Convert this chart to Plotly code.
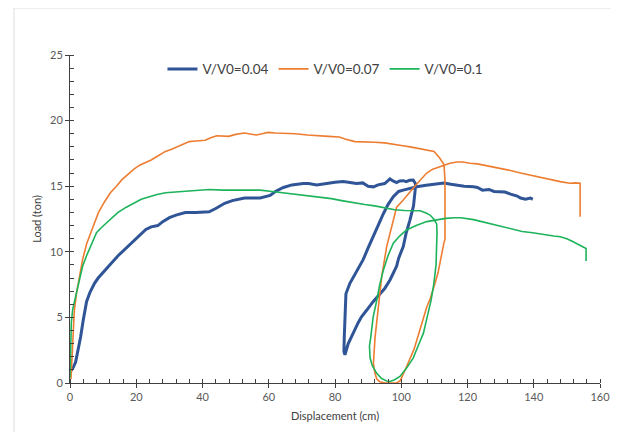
import plotly.graph_objects as go

# ---- data ----
blue_x = [0.2, 1.0, 1.7, 2.5, 3.2, 4.0, 5.0, 6.0, 7.4, 8.5, 9.8, 12, 14.5, 17, 19.3, 21, 22.9, 24.5, 26.5, 28,
          30, 32, 34.8, 38, 42, 44, 46.7, 49, 52.7, 55, 57.4, 60.4, 62, 64.4, 67, 70.4, 72, 74.5, 77, 80,
          82.5, 84.5, 86.5, 88.4, 90, 91.6, 93, 95, 96.6, 97.5, 98.6, 99.5, 100.6, 101.5, 102.5, 103.6,
          104.3, 104.2, 103.7, 102.6, 101.5, 100.6, 99.2, 98.6, 96.6, 95, 93.6, 91.5, 89.6, 88, 87, 85.5,
          84, 83, 82.7, 82.8, 83.0, 83.3, 84.5, 86, 88.5, 90, 91.6, 93, 94.6, 96, 97.6, 99.2, 100.6, 102.7,
          104.7, 107.5, 110, 112.9, 115, 117, 119, 121.8, 123, 124.5, 126.5, 128, 131.3, 133, 135, 136,
          137.5, 139, 139.7]
blue_y = [0.9, 1.2, 1.6, 2.6, 3.5, 4.8, 6.2, 6.9, 7.6, 8.0, 8.4, 9.0, 9.7, 10.3, 10.8, 11.2, 11.7, 11.9, 12.0, 12.3,
          12.6, 12.8, 13.0, 13.0, 13.05, 13.3, 13.7, 13.9, 14.1, 14.1, 14.1, 14.3, 14.6, 14.9, 15.1, 15.2, 15.2, 15.1, 15.2, 15.3,
          15.35, 15.3, 15.2, 15.25, 15.0, 14.95, 15.1, 15.2, 15.55, 15.4, 15.27, 15.4, 15.42, 15.35, 15.45, 15.47,
          15.2, 14.7, 13.5, 12.4, 11.45, 10.4, 9.5, 8.9, 7.85, 7.2, 6.8, 6.2, 5.56, 5.05, 4.6, 3.8,
          3.0, 2.15, 2.4, 3.5, 5.5, 6.8, 7.6, 8.3, 9.4, 10.3, 11.15, 12.0, 12.9, 13.6, 14.2, 14.6, 14.7, 14.85,
          14.96, 15.07, 15.15, 15.25, 15.15, 15.05, 15.0, 14.95, 14.9, 14.7, 14.75, 14.6, 14.55, 14.4, 14.25, 14.1,
          14.0, 14.1, 14.0]

orange_x = [0.3, 0.5, 0.8, 1.3, 2, 3, 3.8, 5, 6.2, 7.4, 8.6, 10.4, 12.2, 14, 15.7, 17.5, 19.3, 21, 22.9, 24.5,
            26.5, 28.8, 30.5, 32.4, 34, 36, 38, 40.8, 42.5, 44.3, 47.9, 50, 52.7, 54.5, 56.3, 58, 59.8, 62, 64.6, 68,
            71.7, 74, 76.5, 78, 81.3, 83, 86, 89, 92, 95, 98, 100, 102.7, 105, 107.5, 109.9, 111.6, 112.9,
            113.2, 113.2, 113.2, 112.9, 112, 111.1, 110.2, 108.7, 107.7, 106.3, 104.7, 103.9, 101.6, 100.5, 99.7,
            98.6, 97, 95.1, 93.5, 92.6, 92.0, 91.6, 92.1, 93.1, 94.1, 95.6, 97.1, 98.6, 100.6, 102, 103.6, 105.5,
            107.7, 109.5, 111.7, 114.7, 116.7, 118.5, 120.75, 123, 126, 130, 133, 136, 139.9, 143, 145.9, 148,
            150.9, 152.5, 154, 154]
orange_y = [0.3, 1.3, 3.85, 5.5, 6.9, 8.3, 9.4, 10.6, 11.45, 12.3, 13.0, 13.8, 14.5, 15.0, 15.5, 15.9, 16.3, 16.6, 16.8, 17.0,
            17.3, 17.65, 17.8, 18.0, 18.2, 18.4, 18.45, 18.5, 18.7, 18.85, 18.8, 18.95, 19.05, 18.95, 18.9, 19.0, 19.1, 19.05, 19.05, 19.0,
            18.9, 18.85, 18.85, 18.8, 18.75, 18.6, 18.4, 18.4, 18.35, 18.3, 18.15, 18.1, 18.0, 17.9, 17.8, 17.65, 17.15, 16.65,
            15.5, 13.0, 10.95, 10.7, 9.6, 8.4, 7.6, 6.4, 5.8, 4.6, 3.3, 2.6, 1.24, 0.6, 0.18,
            0.0, 0.0, 0.0, 0.1, 0.3, 0.8, 1.5, 3.5, 5.8, 8.1, 10.4, 11.9, 13.4, 13.95, 14.4, 14.84, 15.4,
            16.0, 16.3, 16.5, 16.75, 16.85, 16.85, 16.75, 16.7, 16.55, 16.36, 16.2, 16.0, 15.78, 15.6, 15.47, 15.35,
            15.22, 15.25, 15.22, 12.68]

green_x = [0, 0.2, 0.4, 0.8, 2, 3, 3.8, 5, 6.2, 7, 8, 9.5, 11, 12.5, 14.5, 17, 19.3, 21.5, 24, 26,
           28.8, 32, 34.8, 38, 42, 46, 50.3, 54.3, 57.4, 61, 64.6, 68, 71.7, 74.5, 78.9, 82, 86, 89, 92, 95,
           98, 101, 104, 105.7, 107.5, 108.7, 110, 110.7, 110.8, 110.7, 110.5, 109.8, 109, 107.8, 106.7, 105.2,
           103.6, 101.5, 99.6, 98, 96.6, 95.6, 94, 92.6, 91.3, 90.6, 90.4, 90.8, 91.5, 92.6, 93.5, 94.6, 96,
           97.6, 99.5, 101.6, 104.5, 107.7, 110.5, 113.4, 116, 118, 121.8, 125, 127.7, 130.5, 133.7, 136.5,
           139.7, 143, 146, 148, 150, 151.6, 153.5, 155.8, 155.8]
green_y = [0.4, 2.5, 4.6, 5.6, 6.9, 8.0, 8.9, 9.7, 10.4, 11.0, 11.45, 11.85, 12.2, 12.6, 13.0, 13.4, 13.7, 14.0, 14.2, 14.35,
           14.5, 14.55, 14.6, 14.7, 14.75, 14.7, 14.7, 14.7, 14.7, 14.6, 14.5, 14.4, 14.25, 14.2, 14.05, 13.9, 13.7, 13.6, 13.5, 13.35,
           13.2, 13.15, 13.15, 13.13, 12.95, 12.8, 12.45, 12.1, 11.45, 10.5, 9.0, 7.5, 6.3, 5.0, 3.8, 2.9,
           1.9, 1.1, 0.5, 0.25, 0.12, 0.15, 0.35, 0.74, 1.3, 1.9, 2.8, 3.5, 5.0, 6.3, 7.5, 8.6, 9.7,
           10.65, 11.2, 11.66, 12.0, 12.3, 12.45, 12.55, 12.6, 12.6, 12.45, 12.25, 12.1, 11.9, 11.7, 11.55,
           11.45, 11.3, 11.2, 11.15, 11.0, 10.8, 10.55, 10.25, 9.3]

series_names = ["V/V0=0.04", "V/V0=0.07", "V/V0=0.1"]
x_ticks = [0, 20, 40, 60, 80, 100, 120, 140, 160]
y_ticks = [0, 5, 10, 15, 20, 25]

FONT = "Lato, 'Open Sans', sans-serif"
AXC = "#404040"

fig = go.Figure()
fig.add_trace(go.Scatter(x=blue_x, y=blue_y, mode="lines", name=series_names[0],
                         line=dict(color="#2F5597", width=3)))
fig.add_trace(go.Scatter(x=orange_x, y=orange_y, mode="lines", name=series_names[1],
                         line=dict(color="#ED7D31", width=1.6)))
fig.add_trace(go.Scatter(x=green_x, y=green_y, mode="lines", name=series_names[2],
                         line=dict(color="#1DB35A", width=1.6)))
# empty trace to activate an overlay subplot used for the inner half of crossing ticks
fig.add_trace(go.Scatter(x=[], y=[], xaxis="x2", yaxis="y2", showlegend=False, hoverinfo="skip"))

common_x = dict(range=[0, 160], showgrid=False, zeroline=False, automargin=False)
common_y = dict(range=[0, 25], showgrid=False, zeroline=False, automargin=False)

fig.update_layout(
    width=619, height=432,
    paper_bgcolor="white", plot_bgcolor="white",
    margin=dict(l=62, r=27, t=47, b=57, autoexpand=False),
    font=dict(family=FONT, size=11, color="#404040"),
    showlegend=True,
    legend=dict(orientation="h", x=0.482, xanchor="center", y=0.957, yanchor="middle",
                font=dict(size=13.5, color="#404040"), bgcolor="rgba(0,0,0,0)",
                itemwidth=30, tracegroupgap=0),
    xaxis=dict(**common_x, tickvals=x_ticks, ticks="outside", ticklen=4, tickwidth=1, tickcolor=AXC,
               showline=True, linecolor=AXC, linewidth=1,
               minor=dict(dtick=4, ticks="inside", ticklen=4, tickcolor=AXC, tickwidth=1),
               title=dict(text="Displacement (cm)", font=dict(size=11), standoff=10),
               tickfont=dict(size=11, color="#595959")),
    yaxis=dict(**common_y, tickvals=y_ticks, ticks="outside", ticklen=4, tickwidth=1, tickcolor=AXC,
               showline=True, linecolor=AXC, linewidth=1,
               minor=dict(dtick=1, ticks="inside", ticklen=4, tickcolor=AXC, tickwidth=1),
               title=dict(text="Load (ton)", font=dict(size=11), standoff=6),
               tickfont=dict(size=11, color="#595959")),
    xaxis2=dict(**common_x, overlaying="x", anchor="y2", tickvals=x_ticks, ticks="inside", ticklen=4,
                tickcolor=AXC, showticklabels=False, showline=False),
    yaxis2=dict(**common_y, overlaying="y", anchor="x2", tickvals=y_ticks, ticks="inside", ticklen=4,
                tickcolor=AXC, showticklabels=False, showline=False),
    shapes=[dict(type="rect", xref="paper", yref="paper", x0=-0.1057, x1=1.032, y0=-0.2, y1=1.1433,
                 line=dict(color="#DDDDDD", width=1), fillcolor="rgba(0,0,0,0)", layer="below")],
)

fig.write_html("out.html")
